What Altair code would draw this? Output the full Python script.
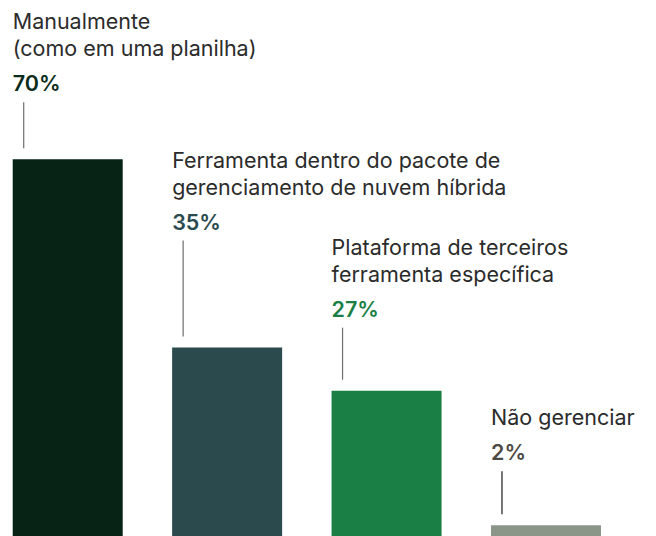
import altair as alt
import pandas as pd

# ---- data ----
categories = ["Manualmente", "Ferramenta", "Plataforma", "Não gerenciar"]
category_lines = [
    ["Manualmente", "(como em uma planilha)"],
    ["Ferramenta dentro do pacote de", "gerenciamento de nuvem híbrida"],
    ["Plataforma de terceiros", "ferramenta específica"],
    ["Não gerenciar"],
]
values = [70, 35, 27, 2]
pct_labels = ["70%", "35%", "27%", "2%"]

# ---- style ----
BAR_COLORS = ["#072315", "#2a4a4d", "#1a7f44", "#8b9689"]
PCT_COLORS = ["#0b2b1b", "#2a4a4d", "#1a7f44", "#4d4a45"]
LEADER_COLORS = ["#6e6e6e", "#6e6e6e", "#6e6e6e", "#1a1a1a"]
LIFT_PX = [68, 118, 74, 65]      # label baseline height above bar top (px)
TEXT_COLOR = "#2b2b2b"
FONT = "Inter"
FS = 21.5
LINE_GAP = 27
PCT_GAP = 35
W, H = 640, 528
Y_MAX = 98.1
PPU = H / Y_MAX

bars = pd.DataFrame({"cat": categories, "value": values, "color": BAR_COLORS})

pct = pd.DataFrame({
    "cat": categories,
    "label": pct_labels,
    "y": [v + l / PPU for v, l in zip(values, LIFT_PX)],
    "color": PCT_COLORS,
})

leaders = pd.DataFrame({
    "cat": categories,
    "y": [v + (l - 11) / PPU for v, l in zip(values, LIFT_PX)],
    "y2": [v + 11 / PPU for v in values],
    "color": LEADER_COLORS,
})

rows = []
for c, lines, v, l in zip(categories, category_lines, values, LIFT_PX):
    k = len(lines)
    for i, t in enumerate(lines):
        px = l + PCT_GAP + (k - 1 - i) * LINE_GAP
        rows.append({"cat": c, "text": t, "y": v + px / PPU})
cat_text = pd.DataFrame(rows)

xscale = alt.Scale(domain=categories, paddingInner=0.31, paddingOuter=0.1622, align=0.091)
yscale = alt.Scale(domain=[0, Y_MAX], nice=False, zero=True)

bar_layer = alt.Chart(bars).mark_bar().encode(
    x=alt.X("cat:N", scale=xscale, axis=None, sort=categories),
    y=alt.Y("value:Q", scale=yscale, axis=None),
    color=alt.Color("color:N", scale=None),
)

leader_layer = alt.Chart(leaders).mark_rule(strokeWidth=1.2, xOffset=11).encode(
    x=alt.X("cat:N", scale=xscale, axis=None, sort=categories, bandPosition=0),
    y=alt.Y("y:Q", scale=yscale, axis=None),
    y2="y2:Q",
    color=alt.Color("color:N", scale=None),
)

pct_layer = alt.Chart(pct).mark_text(
    align="left", baseline="alphabetic", font=FONT, fontSize=FS, fontWeight=600
).encode(
    x=alt.X("cat:N", scale=xscale, axis=None, sort=categories, bandPosition=0),
    y=alt.Y("y:Q", scale=yscale, axis=None),
    text="label:N",
    color=alt.Color("color:N", scale=None),
)

cat_layer = alt.Chart(cat_text).mark_text(
    align="left", baseline="alphabetic", font=FONT, fontSize=FS, color=TEXT_COLOR
).encode(
    x=alt.X("cat:N", scale=xscale, axis=None, sort=categories, bandPosition=0),
    y=alt.Y("y:Q", scale=yscale, axis=None),
    text="text:N",
)

chart = alt.layer(bar_layer, leader_layer, pct_layer, cat_layer).properties(
    width=W, height=H, padding=0, background="white",
    autosize=alt.AutoSizeParams(type="none"),
).configure_view(stroke=None)

chart.save("out.html", embed_options={"renderer": "svg", "actions": False})
